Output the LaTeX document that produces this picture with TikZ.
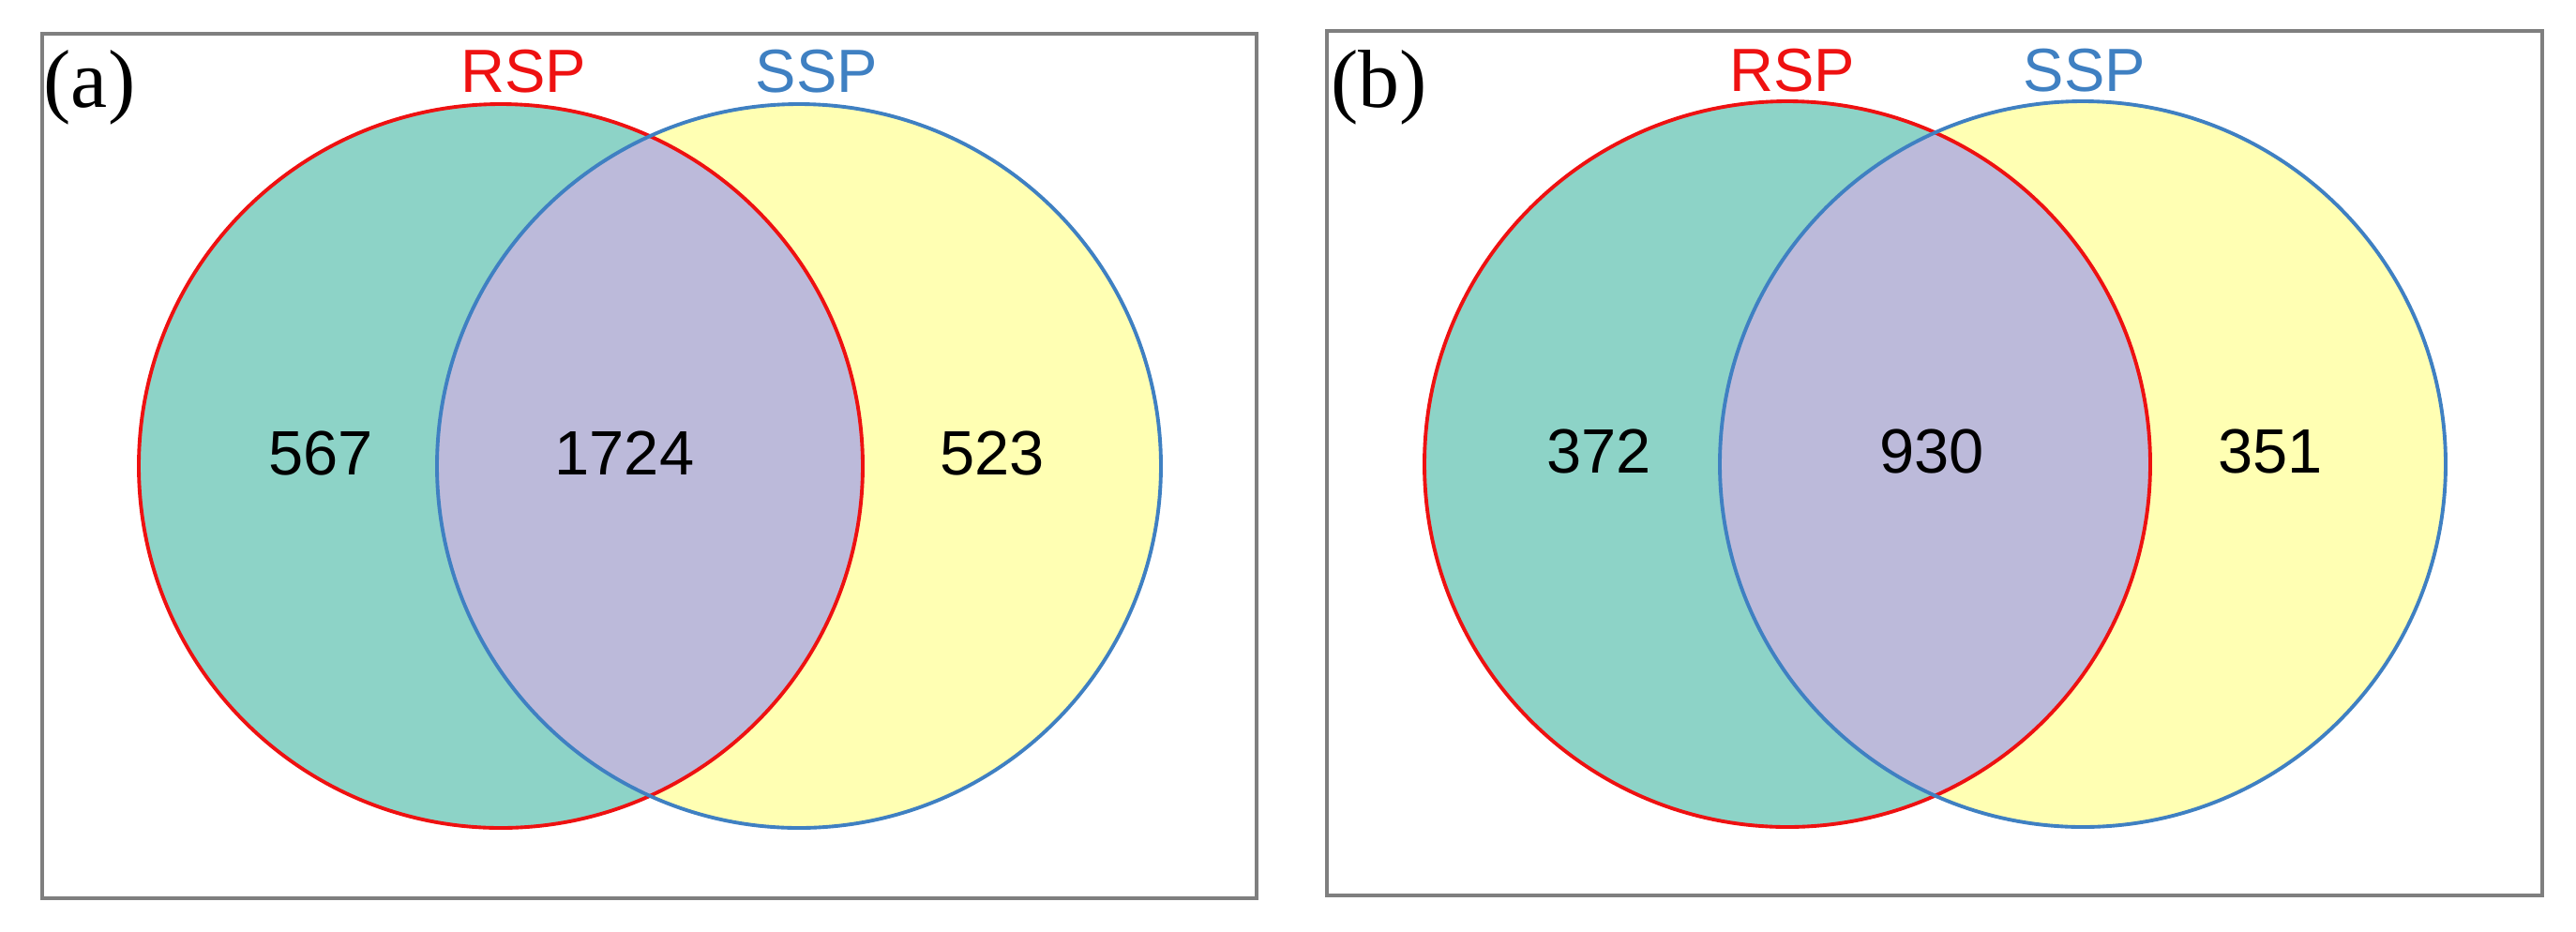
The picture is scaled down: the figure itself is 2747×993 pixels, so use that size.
\documentclass[tikz,border=0pt]{standalone}
\usepackage{fontspec}
\setmainfont{Liberation Serif}
\newfontfamily\arialf{Liberation Sans}
\definecolor{cteal}{HTML}{8DD3C7}
\definecolor{cyell}{HTML}{FFFFB3}
\definecolor{cpurp}{HTML}{BCBADA}
\definecolor{cred}{HTML}{EE1111}
\definecolor{cblue}{HTML}{3F80C2}
\definecolor{cframe}{HTML}{7F7F7F}
\tikzset{
  frame/.style={draw=cframe, line width=0.9pt},
  setlbl/.style={font=\arialf\fontsize{18.5}{18.5}\selectfont, inner sep=0pt, anchor=base},
  numlbl/.style={font=\arialf\fontsize{19}{19}\selectfont, inner sep=0pt, anchor=base, text=black},
  panlbl/.style={font=\fontsize{25}{25}\selectfont, inner sep=0pt, anchor=base west},
  ring/.style={line width=1.1pt}
}
\begin{document}
\begin{tikzpicture}[x=0.01cm, y=-0.01cm]
\useasboundingbox (0,0) rectangle (2747,993);
% ---------- panel (a)
\draw[frame] (45,36) rectangle (1340,958);
\fill[cteal] (534,497) circle[radius=386];
\fill[cyell] (852,497) circle[radius=386];
\begin{scope}
  \clip (534,497) circle[radius=386];
  \fill[cpurp] (852,497) circle[radius=386];
\end{scope}
\draw[ring, cred] (534,497) circle[radius=386];
\draw[ring, cblue] (852,497) circle[radius=386];
\node[panlbl] (pa) at (46,114) {(a)};
\node[setlbl, text=cred] (rspa) at (558,98) {RSP};
\node[setlbl, text=cblue] (sspa) at (871,98) {SSP};
\node[numlbl] (na1) at (342,506) {567};
\node[numlbl] (na2) at (666,506) {1724};
\node[numlbl] (na3) at (1058,506) {523};
% ---------- panel (b)
\draw[frame] (1415,33) rectangle (2711,955);
\fill[cteal] (1906,495) circle[radius=387];
\fill[cyell] (2221,495) circle[radius=387];
\begin{scope}
  \clip (1906,495) circle[radius=387];
  \fill[cpurp] (2221,495) circle[radius=387];
\end{scope}
\draw[ring, cred] (1906,495) circle[radius=387];
\draw[ring, cblue] (2221,495) circle[radius=387];
\node[panlbl] (pb) at (1419,114) {(b)};
\node[setlbl, text=cred] (rspb) at (1911,97) {RSP};
\node[setlbl, text=cblue] (sspb) at (2223,97) {SSP};
\node[numlbl] (nb1) at (1705,504) {372};
\node[numlbl] (nb2) at (2060,504) {930};
\node[numlbl] (nb3) at (2421,504) {351};
\end{tikzpicture}
\end{document}
